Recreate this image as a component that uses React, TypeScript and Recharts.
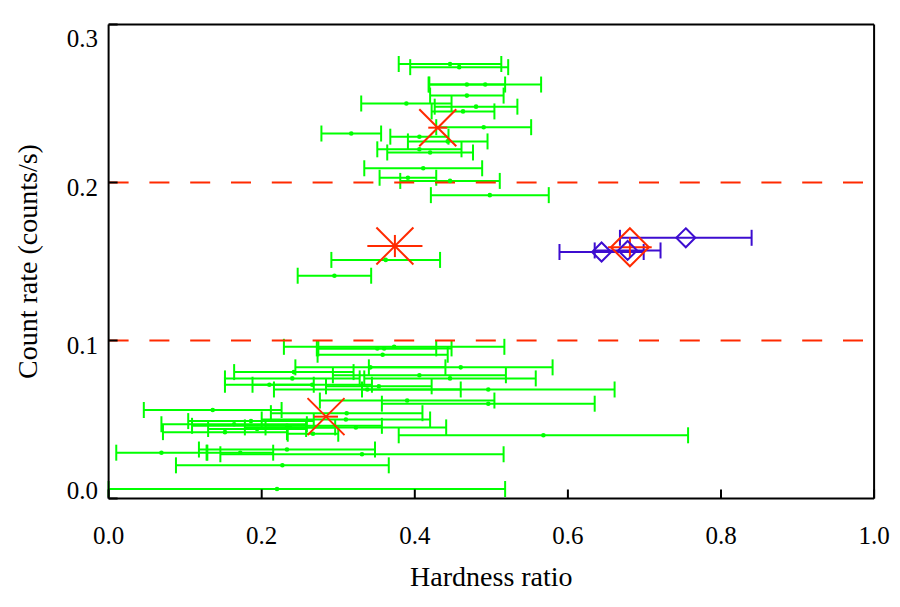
import React from 'react';
import {
  ScatterChart,
  Scatter,
  XAxis,
  YAxis,
  ErrorBar,
  ReferenceLine,
  Label,
} from 'recharts';

// green sources: hardness ratio, its error, count rate
const hardness = [
  0.446, 0.458, 0.468, 0.492, 0.468, 0.389, 0.48, 0.463, 0.49, 0.317, 0.406, 0.443, 0.406, 0.42,
  0.411, 0.391, 0.446, 0.498, 0.362, 0.295, 0.373, 0.36, 0.351, 0.358, 0.342, 0.46, 0.242, 0.406,
  0.446, 0.24, 0.21, 0.266, 0.353, 0.338, 0.496, 0.39, 0.496, 0.136, 0.311, 0.31, 0.186, 0.164,
  0.233, 0.323, 0.194, 0.237, 0.152, 0.267, 0.568, 0.233, 0.069, 0.172, 0.331, 0.227, 0.22,
];
// [minus, plus]; the last one runs off the left edge of the frame
const hardnessErr: (number | [number, number])[] = [
  0.067, 0.064, 0.05, 0.073, 0.048, 0.059, 0.054, 0.041, 0.062, 0.039, 0.038, 0.052, 0.055, 0.056,
  0.077, 0.037, 0.065, 0.077, 0.071, 0.048, 0.144, 0.088, 0.077, 0.085, 0.098, 0.12, 0.078, 0.113,
  0.112, 0.088, 0.058, 0.078, 0.069, 0.122, 0.165, 0.114, 0.139, 0.09, 0.099, 0.11, 0.082, 0.095,
  0.124, 0.118, 0.064, 0.059, 0.081, 0.033, 0.189, 0.115, 0.059, 0.043, 0.185, 0.139, [0.22, 0.298],
];
const countRate = [
  0.275, 0.273, 0.262, 0.262, 0.255, 0.25, 0.248, 0.245, 0.235, 0.231, 0.229, 0.226, 0.221, 0.219,
  0.209, 0.203, 0.201, 0.192, 0.151, 0.141, 0.096, 0.095, 0.095, 0.091, 0.083, 0.083, 0.08, 0.078,
  0.076, 0.076, 0.072, 0.072, 0.071, 0.069, 0.069, 0.062, 0.06, 0.056, 0.054, 0.05, 0.049, 0.047,
  0.046, 0.045, 0.044, 0.045, 0.042, 0.041, 0.04, 0.031, 0.029, 0.029, 0.028, 0.021, 0.006,
];

// red asterisks (averages)
const starHr = [0.43, 0.374, 0.284];
const starHrErr = [0.0124, 0.036, 0.0157];
const starRate = [0.2347, 0.1598, 0.0518];
const starRateErr = [0, 0.007, 0];

// blue diamonds
const blueHr = [0.754, 0.678, 0.644];
const blueHrErr = [0.086, 0.043, 0.055];
const blueRate = [0.165, 0.157, 0.156];

// red diamond (blue average)
const redDiaHr = [0.681];
const redDiaHrErr = [0.0285];
const redDiaRate = [0.159];
const redDiaRateErr = [0.0063];

const thresholds = [0.1, 0.2];
const xTicks = [0, 0.2, 0.4, 0.6, 0.8, 1.0];
const yTicks = [0, 0.1, 0.2, 0.3];

const GREEN = '#00ff00';
const RED = '#ff2a00';
const BLUE = '#3d0dd0';
const FONT = 'Liberation Serif';
const FS = 25;
const TITLE_FS = 28;

const W = 900;
const H = 607;
const M = { top: 23.5, right: 24.9, left: 0, bottom: 0 };
const Y_AXIS_W = 108.6;
const X_AXIS_H = 108.5;
const PLOT_TOP = M.top + 1;
const PLOT_BOTTOM = H - X_AXIS_H;

const greenData = hardness.map((x, i) => ({ x, y: countRate[i], xerr: hardnessErr[i] }));
const starData = starHr.map((x, i) => ({ x, y: starRate[i], xerr: starHrErr[i], yerr: starRateErr[i] }));
const blueData = blueHr.map((x, i) => ({ x, y: blueRate[i], xerr: blueHrErr[i] }));
const redDiaData = redDiaHr.map((x, i) => ({ x, y: redDiaRate[i], xerr: redDiaHrErr[i], yerr: redDiaRateErr[i] }));

const Dot = (p: any) => <circle cx={p.cx} cy={p.cy} r={2.3} fill={GREEN} />;

const Star = (p: any) => {
  const s = 18.5;
  return (
    <g stroke={RED} strokeWidth={2}>
      <line x1={p.cx - s} y1={p.cy - s} x2={p.cx + s} y2={p.cy + s} />
      <line x1={p.cx - s} y1={p.cy + s} x2={p.cx + s} y2={p.cy - s} />
    </g>
  );
};

const diamond = (color: string, s: number) => (p: any) => (
  <polygon
    points={`${p.cx},${p.cy - s} ${p.cx + s},${p.cy} ${p.cx},${p.cy + s} ${p.cx - s},${p.cy}`}
    fill="none"
    stroke={color}
    strokeWidth={2}
  />
);

const BottomTick = ({ x, y, payload }: any) => (
  <g>
    <line x1={x} x2={x} y1={y} y2={y - 9} stroke="#000" strokeWidth={2} />
    <text x={x} y={y + 36.5 + FS * 0.34} textAnchor="middle" fontSize={FS} fontFamily={FONT} fill="#000">
      {payload.value.toFixed(1)}
    </text>
  </g>
);

const TopTick = ({ x, y }: any) => <line x1={x} x2={x} y1={y} y2={y + 9} stroke="#000" strokeWidth={2} />;

const LeftTick = ({ x, y, payload }: any) => {
  const c = Math.min(Math.max(y + 5, PLOT_TOP + 13.5), PLOT_BOTTOM - 8.5);
  return (
    <g>
      <line x1={x} x2={x + 9} y1={y} y2={y} stroke="#000" strokeWidth={2} />
      <text x={x - 10.5} y={c + FS * 0.34} textAnchor="end" fontSize={FS} fontFamily={FONT} fill="#000">
        {payload.value.toFixed(1)}
      </text>
    </g>
  );
};

const RightTick = ({ x, y }: any) => <line x1={x} x2={x - 9} y1={y} y2={y} stroke="#000" strokeWidth={2} />;

export default function App() {
  return (
    <div style={{ position: 'absolute', left: 0, top: 0, width: W, height: H, background: '#fff' }}>
      <ScatterChart width={W} height={H} margin={M}>
        <XAxis
          type="number"
          dataKey="x"
          domain={[0, 1]}
          ticks={xTicks}
          interval={0}
          allowDataOverflow
          height={X_AXIS_H}
          tickSize={0}
          tickMargin={0}
          tickLine={false}
          tick={<BottomTick />}
          axisLine={{ stroke: '#000', strokeWidth: 2 }}
        >
          <Label
            content={({ viewBox }: any) => (
              <text
                x={viewBox.x + viewBox.width / 2}
                y={viewBox.y + 87.5}
                textAnchor="middle"
                fontSize={TITLE_FS}
                fontFamily={FONT}
                fill="#000"
              >
                Hardness ratio
              </text>
            )}
          />
        </XAxis>
        <XAxis
          xAxisId="top"
          orientation="top"
          type="number"
          dataKey="x"
          domain={[0, 1]}
          ticks={xTicks}
          interval={0}
          height={1}
          tickSize={0}
          tickMargin={0}
          tickLine={false}
          tick={<TopTick />}
          axisLine={{ stroke: '#000', strokeWidth: 2 }}
        />
        <YAxis
          type="number"
          dataKey="y"
          domain={[0, 0.3]}
          ticks={yTicks}
          interval={0}
          allowDataOverflow
          width={Y_AXIS_W}
          tickSize={0}
          tickMargin={0}
          tickLine={false}
          tick={<LeftTick />}
          axisLine={{ stroke: '#000', strokeWidth: 2 }}
        >
          <Label
            content={({ viewBox }: any) => {
              const cx = viewBox.x + 29;
              const cy = viewBox.y + viewBox.height / 2;
              return (
                <text
                  x={cx}
                  y={cy + TITLE_FS * 0.3}
                  transform={`rotate(-90 ${cx} ${cy})`}
                  textAnchor="middle"
                  fontSize={TITLE_FS}
                  fontFamily={FONT}
                  fill="#000"
                >
                  Count rate (counts/s)
                </text>
              );
            }}
          />
        </YAxis>
        <YAxis
          yAxisId="right"
          orientation="right"
          type="number"
          dataKey="y"
          domain={[0, 0.3]}
          ticks={yTicks}
          interval={0}
          width={1}
          tickSize={0}
          tickMargin={0}
          tickLine={false}
          tick={<RightTick />}
          axisLine={{ stroke: '#000', strokeWidth: 2 }}
        />

        <Scatter data={greenData} shape={<Dot />} isAnimationActive={false}>
          <ErrorBar dataKey="xerr" direction="x" width={8} stroke={GREEN} strokeWidth={2} isAnimationActive={false} />
        </Scatter>

        {thresholds.map((t) => (
          <ReferenceLine key={t} y={t} stroke={RED} strokeWidth={2} strokeDasharray="20 20.8" />
        ))}

        <Scatter data={blueData} shape={diamond(BLUE, 9.5)} isAnimationActive={false}>
          <ErrorBar dataKey="xerr" direction="x" width={8} stroke={BLUE} strokeWidth={2} isAnimationActive={false} />
        </Scatter>

        <Scatter data={redDiaData} shape={diamond(RED, 19)} isAnimationActive={false}>
          <ErrorBar dataKey="xerr" direction="x" width={0} stroke={RED} strokeWidth={2} isAnimationActive={false} />
          <ErrorBar dataKey="yerr" direction="y" width={0} stroke={RED} strokeWidth={2} isAnimationActive={false} />
        </Scatter>

        <Scatter data={starData} shape={<Star />} isAnimationActive={false}>
          <ErrorBar dataKey="xerr" direction="x" width={0} stroke={RED} strokeWidth={2} isAnimationActive={false} />
          <ErrorBar dataKey="yerr" direction="y" width={0} stroke={RED} strokeWidth={2} isAnimationActive={false} />
        </Scatter>
      </ScatterChart>
    </div>
  );
}
